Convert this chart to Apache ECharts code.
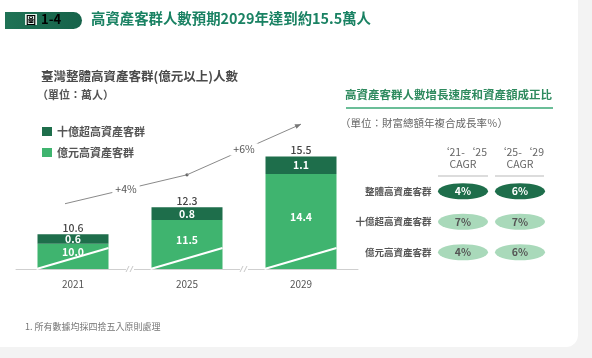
<!DOCTYPE html>
<html><head><meta charset="utf-8">
<script src="https://cdn.jsdelivr.net/npm/echarts@6/dist/echarts.min.js"></script>
<style>html,body{margin:0;padding:0;background:#f3f3f3;}#c{width:592px;height:358px;}</style>
</head><body><div id="c"></div>
<script>
// ---- data ----
var years = ['2021', '2025', '2029'];
var billionPlus = [10.0, 11.5, 14.4];      // 億元高資產客群
var tenBillionPlus = [0.6, 0.8, 1.1];      // 十億超高資產客群
var totals = [10.6, 12.3, 15.5];
var growthLabels = ['+4%', '+6%'];
var cagrCols = ['\u201821-\u201825\nCAGR', '\u201825-\u201829\nCAGR'];
var cagrRows = ['整體高資產客群', '十億超高資產客群', '億元高資產客群'];
var cagrValues = [[4, 6], [7, 7], [4, 6]];

// ---- styles ----
var FONT = '"Noto Sans CJK TC","Noto Sans CJK SC","Noto Sans",sans-serif';
var LIGHT = '#3fb46f', DARK = '#1e6e4b', PALE = '#a9d9ba';
var TREND_OFFSET = 2.05;

var chart = echarts.init(document.getElementById('c'), null, {renderer: 'canvas'});

var trendData = totals.map(function (t, i) { return [i, t + TREND_OFFSET]; });
var barDecoData = totals.map(function (t, i) { return [i, t]; });

var cagrData = [];
cagrValues.forEach(function (row, r) {
  row.forEach(function (v, c) {
    var first = r === 0;
    cagrData.push({
      value: [c, r, v],
      itemStyle: {color: first ? DARK : PALE, opacity: 1},
      label: {color: first ? '#ffffff' : '#555555'}
    });
  });
});

var option = {
  animation: false,
  textStyle: {fontFamily: FONT},
  title: [
    {text: '高資產客群人數預期2029年達到約15.5萬人', left: 91, top: 11, padding: 0,
     textStyle: {fontSize: 14.4, fontWeight: 'bold', color: '#1a8263', fontFamily: FONT}},
    {text: '臺灣整體高資產客群(億元以上)人數', left: 41, top: 70, padding: 0,
     textStyle: {fontSize: 12.5, fontWeight: 'bold', color: '#4a4a4a', fontFamily: FONT}},
    {text: '（單位：萬人）', left: 37, top: 89, padding: 0,
     textStyle: {fontSize: 11, fontWeight: 'bold', color: '#555', fontFamily: FONT}},
    {text: '高資產客群人數增長速度和資產額成正比', left: 345, top: 89, padding: 0,
     textStyle: {fontSize: 11.5, fontWeight: 'bold', color: '#2e8a5e', fontFamily: FONT}},
    {text: '（單位：財富總額年複合成長率％）', left: 340, top: 118, padding: 0,
     textStyle: {fontSize: 10.5, fontWeight: 'normal', color: '#666', fontFamily: FONT}},
    {text: '1. 所有數據均採四捨五入原則處理', left: 25, top: 322, padding: 0,
     textStyle: {fontSize: 9, fontWeight: 'normal', color: '#777', fontFamily: FONT}}
  ],
  legend: {
    orient: 'vertical', left: 37, top: 121, itemWidth: 10, itemHeight: 9, itemGap: 10,
    icon: 'rect', data: ['十億超高資產客群', '億元高資產客群'],
    textStyle: {fontSize: 11, color: '#555', fontWeight: 'bold', fontFamily: FONT}
  },
  grid: [
    {left: 16, top: 117, width: 342, height: 152},
    {left: 434.5, top: 176, width: 114, height: 91.5}
  ],
  xAxis: [
    {type: 'category', data: years, gridIndex: 0,
     axisLine: {lineStyle: {color: '#cfcfcf', width: 1}}, axisTick: {show: false},
     axisLabel: {margin: 10, fontSize: 10, color: '#555', fontFamily: FONT}},
    {type: 'category', data: cagrCols, gridIndex: 1, position: 'top',
     axisLine: {show: false}, axisTick: {show: false},
     axisLabel: {interval: 0, margin: 6, fontSize: 10.5, lineHeight: 12, color: '#666', fontFamily: FONT}}
  ],
  yAxis: [
    {type: 'value', gridIndex: 0, min: 8.4, max: 18, show: false, splitLine: {show: false}},
    {type: 'category', data: cagrRows, gridIndex: 1, inverse: true,
     axisLine: {show: false}, axisTick: {show: false}, splitLine: {show: false},
     axisLabel: {interval: 0, margin: 3, fontSize: 9.5, color: '#555', fontWeight: 'bold', fontFamily: FONT}}
  ],
  series: [
    {name: '億元高資產客群', type: 'bar', stack: 's', data: billionPlus, barWidth: 71,
     itemStyle: {color: LIGHT},
     label: {show: true, position: 'inside', offset: [0, -4], color: '#fff', fontSize: 10.5,
             fontWeight: 'bold', formatter: function (p) { return p.value.toFixed(1); }}},
    {name: '十億超高資產客群', type: 'bar', stack: 's', data: tenBillionPlus, barWidth: 71,
     itemStyle: {color: DARK},
     label: {show: true, position: 'inside', color: '#fff', fontSize: 10.5, fontWeight: 'bold',
             formatter: function (p) { return p.value.toFixed(1); }}},
    // bar decorations: diagonal white break line, totals, axis break marks
    {type: 'custom', silent: true, z: 5, clip: false, data: barDecoData,
     renderItem: function (params, api) {
       var i = api.value(0), total = api.value(1);
       var base = api.coord([i, 8.4]);
       var top = api.coord([i, total]);
       var bw = 71;
       var children = [
         {type: 'line', shape: {x1: base[0] - bw / 2 - 1, y1: base[1], x2: base[0] + bw / 2, y2: base[1] - 21},
          style: {stroke: '#ffffff', lineWidth: 2}},
         {type: 'text', style: {x: top[0], y: top[1] - 1, text: total.toFixed(1), fill: '#444',
          font: '500 10.5px ' + FONT, align: 'center', verticalAlign: 'bottom'}}
       ];
       if (i < totals.length - 1) {
         var nb = api.coord([i + 1, 8.4]);
         var mx = (base[0] + nb[0]) / 2, y = base[1];
         children.push({type: 'rect', shape: {x: mx - 4, y: y - 2, width: 8, height: 4}, style: {fill: '#ffffff'}});
         children.push({type: 'line', shape: {x1: mx - 4, y1: y + 3, x2: mx - 1, y2: y - 3}, style: {stroke: '#c8c8c8', lineWidth: 1}});
         children.push({type: 'line', shape: {x1: mx, y1: y + 3, x2: mx + 3, y2: y - 3}, style: {stroke: '#c8c8c8', lineWidth: 1}});
       }
       return {type: 'group', children: children};
     }},
    // growth trend line
    {type: 'custom', silent: true, z: 6, clip: false, data: trendData,
     renderItem: function (params, api) {
       var i = api.value(0);
       if (i >= trendData.length - 1) return {type: 'group', children: []};
       var p1 = api.coord(trendData[i]);
       var p2 = api.coord(trendData[i + 1]);
       if (i === 0) p1 = [p1[0] - 8, p1[1] + 2];
       var children = [
         {type: 'line', shape: {x1: p1[0], y1: p1[1], x2: p2[0], y2: p2[1]}, style: {stroke: '#8a8a8a', lineWidth: 1}},
         {type: 'text', style: {x: (p1[0] + p2[0]) / 2, y: (p1[1] + p2[1]) / 2, text: growthLabels[i],
           fill: '#555', font: '10.5px ' + FONT, align: 'center', verticalAlign: 'middle',
           backgroundColor: '#ffffff', padding: [1, 3]}}
       ];
       if (i < trendData.length - 2) {
         children.push({type: 'circle', shape: {cx: p2[0], cy: p2[1], r: 1.6}, style: {fill: '#666'}});
       } else {
         var ang = Math.atan2(p2[1] - p1[1], p2[0] - p1[0]);
         var L = 6, W = 2.5;
         var bx = p2[0] - L * Math.cos(ang), by = p2[1] - L * Math.sin(ang);
         children.push({type: 'polygon', shape: {points: [
           [p2[0], p2[1]],
           [bx + W * Math.sin(ang), by - W * Math.cos(ang)],
           [bx - W * Math.sin(ang), by + W * Math.cos(ang)]]}, style: {fill: '#777'}});
       }
       return {type: 'group', children: children};
     }},
    // CAGR table
    {type: 'scatter', xAxisIndex: 1, yAxisIndex: 1, data: cagrData, symbol: 'circle',
     symbolSize: [50, 16],
     label: {show: true, position: 'inside', fontSize: 10.5, fontWeight: 'bold', fontFamily: FONT,
             formatter: function (p) { return p.value[2] + '%'; }}}
  ],
  graphic: [
    {type: 'rect', z: -10, shape: {x: -12, y: -12, width: 590, height: 359, r: 12}, style: {fill: '#ffffff'}},
    {type: 'rect', z: 1, shape: {x: 5, y: 12, width: 77, height: 17, r: [0, 9, 9, 0]},
     style: {fill: new echarts.graphic.LinearGradient(0, 0, 1, 0, [{offset: 0, color: '#1f7255'}, {offset: 1, color: '#16634a'}])}},
    {type: 'text', z: 2, left: 25, top: 13, style: {
      text: '{a|圖}{b|1-4}',
      rich: {
        a: {fontSize: 10, color: '#1f7255', backgroundColor: '#dfeee6', padding: [1, 1, 0, 1], fontFamily: FONT, fontWeight: 'bold'},
        b: {fontSize: 13, color: '#ffffff', fontWeight: 'bold', fontFamily: FONT, padding: [0, 0, 0, 4]}
      }}},
    {type: 'line', z: 1, shape: {x1: 346, y1: 108, x2: 553, y2: 108}, style: {stroke: '#3aa876', lineWidth: 1.5}},
    {type: 'line', z: 1, shape: {x1: 438, y1: 176, x2: 488, y2: 176}, style: {stroke: '#d0d0d0', lineWidth: 1.5}},
    {type: 'line', z: 1, shape: {x1: 495, y1: 176, x2: 544, y2: 176}, style: {stroke: '#d0d0d0', lineWidth: 1.5}}
  ]
};
chart.setOption(option);
</script></body></html>
